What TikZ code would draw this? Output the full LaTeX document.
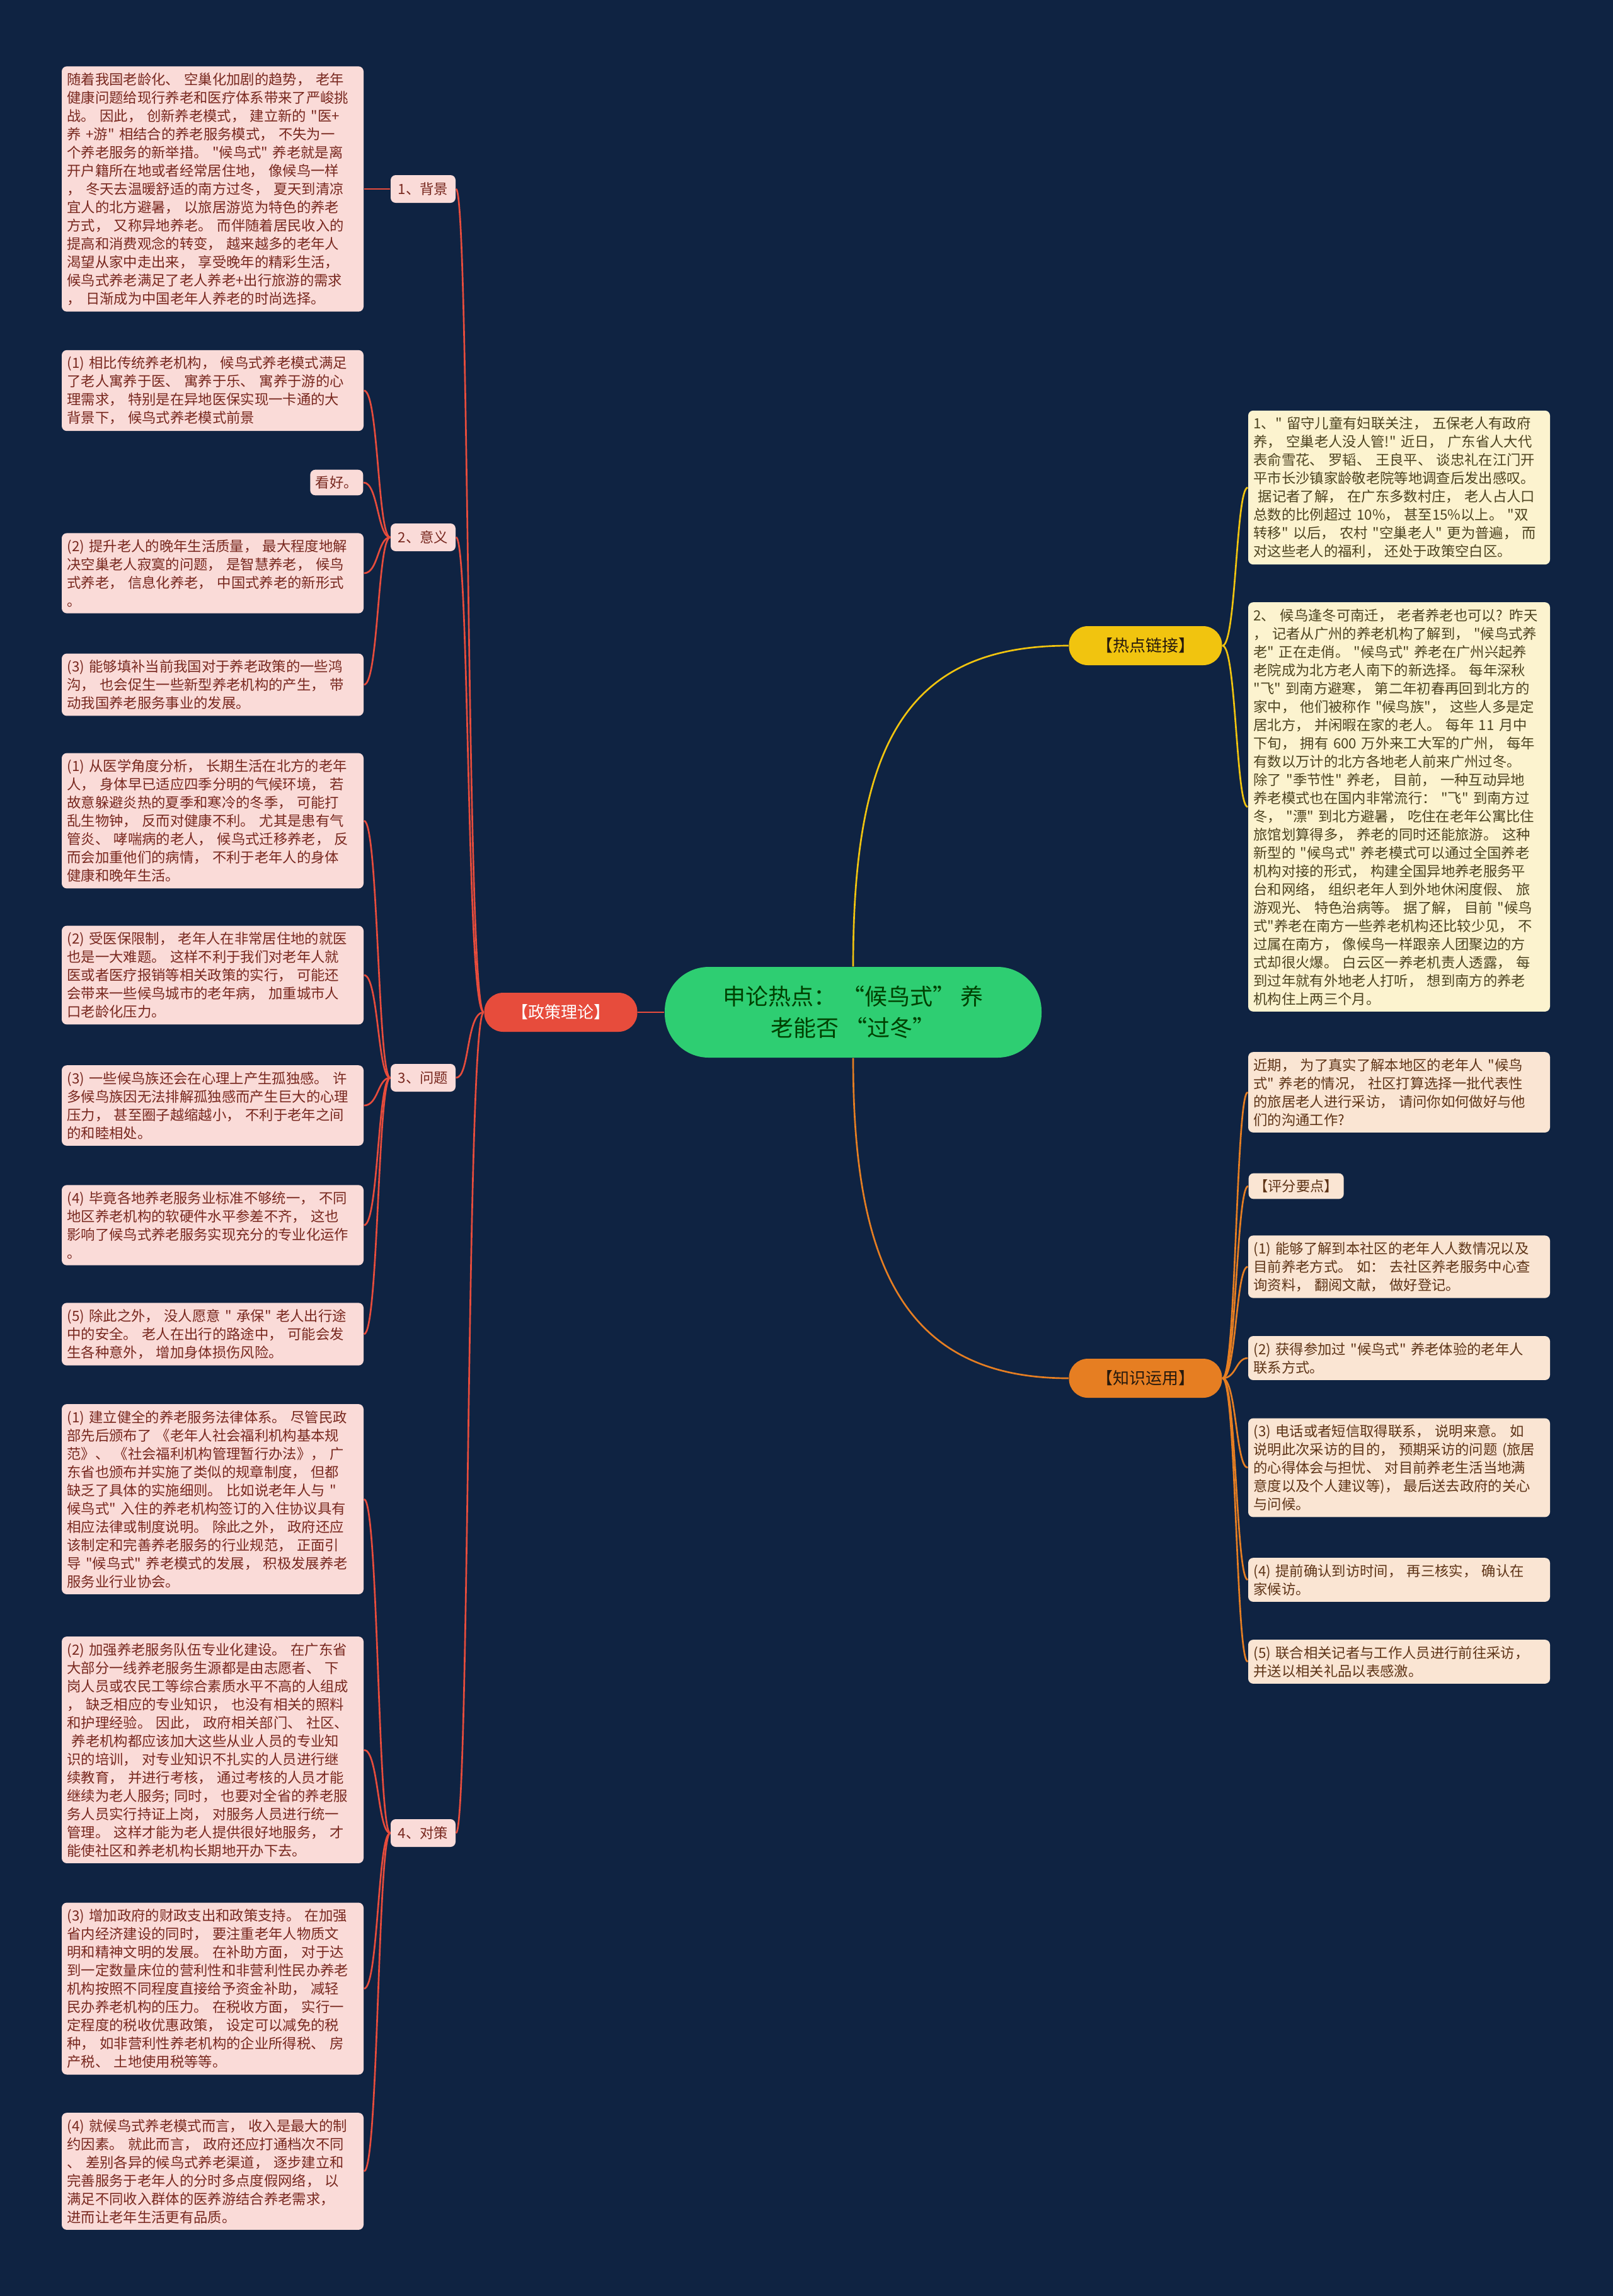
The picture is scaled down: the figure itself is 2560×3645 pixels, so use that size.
\documentclass[tikz,border=0pt]{standalone}
\usepackage{fontspec}
\setmainfont{Noto Sans CJK SC}[Ligatures=TeXOff]
\usetikzlibrary{positioning}
\definecolor{bgnavy}{HTML}{0F2342}
\definecolor{maingreen}{HTML}{2ECE72}
\definecolor{polred}{HTML}{E74C3C}
\definecolor{hotyellow}{HTML}{F1C40F}
\definecolor{knoworange}{HTML}{E67E22}
\definecolor{pinkbox}{HTML}{FADBD8}
\definecolor{creambox}{HTML}{FCF3CF}
\definecolor{peachbox}{HTML}{FAE5D3}
\definecolor{pinktext}{HTML}{78281F}
\definecolor{creamtext}{HTML}{4D4320}
\definecolor{peachtext}{HTML}{5E3417}

\begin{document}
\begin{tikzpicture}[x=0.3pt, y=-0.3pt,
    pill/.style={rounded corners=9pt, minimum width=72.9pt, minimum height=18.6pt,
                 inner sep=0pt, font=\fontsize{7.8pt}{9pt}\selectfont},
    note/.style={rounded corners=2.4pt, inner xsep=2.55pt, inner ysep=3pt, align=left,
                 font=\fontsize{6.7pt}{8.7pt}\selectfont},
    notebox/.style={note, text width=138.6pt},
    polnote/.style={fill=pinkbox, text=pinktext},
    hotnote/.style={fill=creambox, text=creamtext},
    knownote/.style={fill=peachbox, text=peachtext},
    topic/.style={note, polnote, minimum width=30.9pt, minimum height=13.2pt, align=center},
    redline/.style={draw=polred, line width=0.8pt},
    yellowline/.style={draw=hotyellow, line width=0.8pt},
    orangeline/.style={draw=knoworange, line width=0.8pt}
  ]
    \useasboundingbox (0,0) rectangle (2560,3645);
    \fill[bgnavy] (0,0) rectangle (2560,3645);

    % centre and first level
    \node[fill=maingreen, text=black!75!green, rounded corners=21pt, align=center,
          minimum width=179.4pt, minimum height=43.2pt,
          font=\fontsize{10.8pt}{15pt}\selectfont] (main) at (1354,1607)
      {申论热点： “候鸟式” 养\\老能否 “过冬”};
    \node[pill, fill=polred, text=white] (pol) at (890,1607) {【政策理论】};
    \node[pill, fill=hotyellow, text=black!80!brown] (hot) at (1818,1025) {【热点链接】};
    \node[pill, fill=knoworange, text=black!80!brown] (know) at (1818,2188) {【知识运用】};

    % left branch
    \node[topic] (bg) at (671.5,300) {1、背景};
    \node[topic] (yy) at (671.5,853) {2、意义};
    \node[topic] (wt) at (671.5,1711) {3、问题};
    \node[topic] (dc) at (671.5,2910) {4、对策};

    \node[notebox, polnote] (bg1) at (337.5,300) {随着我国老龄化、 空巢化加剧的趋势， 老年\\健康问题给现行养老和医疗体系带来了严峻挑\\战。 因此， 创新养老模式， 建立新的 "医+\\养 +游" 相结合的养老服务模式， 不失为一\\个养老服务的新举措。 "候鸟式" 养老就是离\\开户籍所在地或者经常居住地， 像候鸟一样\\， 冬天去温暖舒适的南方过冬， 夏天到清凉\\宜人的北方避暑， 以旅居游览为特色的养老\\方式， 又称异地养老。 而伴随着居民收入的\\提高和消费观念的转变， 越来越多的老年人\\渴望从家中走出来， 享受晚年的精彩生活，\\候鸟式养老满足了老人养老+出行旅游的需求\\， 日渐成为中国老年人养老的时尚选择。};

    \node[notebox, polnote] (yy1) at (337.5,620) {(1) 相比传统养老机构， 候鸟式养老模式满足\\了老人寓养于医、 寓养于乐、 寓养于游的心\\理需求， 特别是在异地医保实现一卡通的大\\背景下， 候鸟式养老模式前景};
    \node[note, polnote, anchor=east] (yy2) at (577,766) {看好。};
    \node[notebox, polnote] (yy3) at (337.5,910) {(2) 提升老人的晚年生活质量， 最大程度地解\\决空巢老人寂寞的问题， 是智慧养老， 候鸟\\式养老， 信息化养老， 中国式养老的新形式\\。};
    \node[notebox, polnote] (yy4) at (337.5,1087) {(3) 能够填补当前我国对于养老政策的一些鸿\\沟， 也会促生一些新型养老机构的产生， 带\\动我国养老服务事业的发展。};

    \node[notebox, polnote] (wt1) at (337.5,1303) {(1) 从医学角度分析， 长期生活在北方的老年\\人， 身体早已适应四季分明的气候环境， 若\\故意躲避炎热的夏季和寒冷的冬季， 可能打\\乱生物钟， 反而对健康不利。 尤其是患有气\\管炎、 哮喘病的老人， 候鸟式迁移养老， 反\\而会加重他们的病情， 不利于老年人的身体\\健康和晚年生活。};
    \node[notebox, polnote] (wt2) at (337.5,1548) {(2) 受医保限制， 老年人在非常居住地的就医\\也是一大难题。 这样不利于我们对老年人就\\医或者医疗报销等相关政策的实行， 可能还\\会带来一些候鸟城市的老年病， 加重城市人\\口老龄化压力。};
    \node[notebox, polnote] (wt3) at (337.5,1755) {(3) 一些候鸟族还会在心理上产生孤独感。 许\\多候鸟族因无法排解孤独感而产生巨大的心理\\压力， 甚至圈子越缩越小， 不利于老年之间\\的和睦相处。};
    \node[notebox, polnote] (wt4) at (337.5,1945) {(4) 毕竟各地养老服务业标准不够统一， 不同\\地区养老机构的软硬件水平参差不齐， 这也\\影响了候鸟式养老服务实现充分的专业化运作\\。};
    \node[notebox, polnote] (wt5) at (337.5,2118) {(5) 除此之外， 没人愿意 " 承保" 老人出行途\\中的安全。 老人在出行的路途中， 可能会发\\生各种意外， 增加身体损伤风险。};

    \node[notebox, polnote] (dc1) at (337.5,2380) {(1) 建立健全的养老服务法律体系。 尽管民政\\部先后颁布了 《老年人社会福利机构基本规\\范》、 《社会福利机构管理暂行办法》， 广\\东省也颁布并实施了类似的规章制度， 但都\\缺乏了具体的实施细则。 比如说老年人与 "\\候鸟式" 入住的养老机构签订的入住协议具有\\相应法律或制度说明。 除此之外， 政府还应\\该制定和完善养老服务的行业规范， 正面引\\导 "候鸟式" 养老模式的发展， 积极发展养老\\服务业行业协会。};
    \node[notebox, polnote] (dc2) at (337.5,2778) {(2) 加强养老服务队伍专业化建设。 在广东省\\大部分一线养老服务生源都是由志愿者、 下\\岗人员或农民工等综合素质水平不高的人组成\\， 缺乏相应的专业知识， 也没有相关的照料\\和护理经验。 因此， 政府相关部门、 社区、\\\ 养老机构都应该加大这些从业人员的专业知\\识的培训， 对专业知识不扎实的人员进行继\\续教育， 并进行考核， 通过考核的人员才能\\继续为老人服务; 同时， 也要对全省的养老服\\务人员实行持证上岗， 对服务人员进行统一\\管理。 这样才能为老人提供很好地服务， 才\\能使社区和养老机构长期地开办下去。};
    \node[notebox, polnote] (dc3) at (337.5,3157) {(3) 增加政府的财政支出和政策支持。 在加强\\省内经济建设的同时， 要注重老年人物质文\\明和精神文明的发展。 在补助方面， 对于达\\到一定数量床位的营利性和非营利性民办养老\\机构按照不同程度直接给予资金补助， 减轻\\民办养老机构的压力。 在税收方面， 实行一\\定程度的税收优惠政策， 设定可以减免的税\\种， 如非营利性养老机构的企业所得税、 房\\产税、 土地使用税等等。};
    \node[notebox, polnote] (dc4) at (337.5,3447) {(4) 就候鸟式养老模式而言， 收入是最大的制\\约因素。 就此而言， 政府还应打通档次不同\\、 差别各异的候鸟式养老渠道， 逐步建立和\\完善服务于老年人的分时多点度假网络， 以\\满足不同收入群体的医养游结合养老需求，\\进而让老年生活更有品质。};

    % right branch
    \node[notebox, hotnote] (hot1) at (2220.5,774) {1、" 留守儿童有妇联关注， 五保老人有政府\\养， 空巢老人没人管!" 近日， 广东省人大代\\表俞雪花、 罗韬、 王良平、 谈忠礼在江门开\\平市长沙镇家龄敬老院等地调查后发出感叹。\\\ 据记者了解， 在广东多数村庄， 老人占人口\\总数的比例超过 10\%， 甚至15\%以上。 "双\\转移" 以后， 农村 "空巢老人" 更为普遍， 而\\对这些老人的福利， 还处于政策空白区。};
    \node[notebox, hotnote] (hot2) at (2220.5,1281) {2、 候鸟逢冬可南迁， 老者养老也可以? 昨天\\， 记者从广州的养老机构了解到， "候鸟式养\\老" 正在走俏。 "候鸟式" 养老在广州兴起养\\老院成为北方老人南下的新选择。 每年深秋\\"飞" 到南方避寒， 第二年初春再回到北方的\\家中， 他们被称作 "候鸟族"， 这些人多是定\\居北方， 并闲暇在家的老人。 每年 11 月中\\下旬， 拥有 600 万外来工大军的广州， 每年\\有数以万计的北方各地老人前来广州过冬。\\除了 "季节性" 养老， 目前， 一种互动异地\\养老模式也在国内非常流行： "飞" 到南方过\\冬， "漂" 到北方避暑， 吃住在老年公寓比住\\旅馆划算得多， 养老的同时还能旅游。 这种\\新型的 "候鸟式" 养老模式可以通过全国养老\\机构对接的形式， 构建全国异地养老服务平\\台和网络， 组织老年人到外地休闲度假、 旅\\游观光、 特色治病等。 据了解， 目前 "候鸟\\式"养老在南方一些养老机构还比较少见， 不\\过属在南方， 像候鸟一样跟亲人团聚边的方\\式却很火爆。 白云区一养老机责人透露， 每\\到过年就有外地老人打听， 想到南方的养老\\机构住上两三个月。};

    \node[notebox, knownote] (kn1) at (2220.5,1734) {近期， 为了真实了解本地区的老年人 "候鸟\\式" 养老的情况， 社区打算选择一批代表性\\的旅居老人进行采访， 请问你如何做好与他\\们的沟通工作?};
    \node[note, knownote, anchor=west] (kn2) at (1981,1883) {【评分要点】};
    \node[notebox, knownote] (kn3) at (2220.5,2011) {(1) 能够了解到本社区的老年人人数情况以及\\目前养老方式。 如： 去社区养老服务中心查\\询资料， 翻阅文献， 做好登记。};
    \node[notebox, knownote] (kn4) at (2220.5,2156) {(2) 获得参加过 "候鸟式" 养老体验的老年人\\联系方式。};
    \node[notebox, knownote] (kn5) at (2220.5,2330) {(3) 电话或者短信取得联系， 说明来意。 如\\说明此次采访的目的， 预期采访的问题 (旅居\\的心得体会与担忧、 对目前养老生活当地满\\意度以及个人建议等)， 最后送去政府的关心\\与问候。};
    \node[notebox, knownote] (kn6) at (2220.5,2508) {(4) 提前确认到访时间， 再三核实， 确认在\\家候访。};
    \node[notebox, knownote] (kn7) at (2220.5,2638) {(5) 联合相关记者与工作人员进行前往采访，\\并送以相关礼品以表感激。};

    % connectors
    \draw[redline] (main.west) -- (pol.east);
    \draw[yellowline] (main.north) .. controls +(0,-350) and +(-260,0) .. (hot.west);
    \draw[orangeline] (main.south) .. controls +(0,330) and +(-260,0) .. (know.west);
    \foreach \kid in {bg,yy,wt,dc}
      \draw[redline] (pol.west) .. controls +(-28,0) and +(22,0) .. (\kid.east);
    \draw[redline] (bg.west) .. controls +(-20,0) and +(23,0) .. (bg1.east);
    \foreach \kid in {yy1,yy2,yy3,yy4}
      \draw[redline] (yy.west) .. controls +(-20,0) and +(23,0) .. (\kid.east);
    \foreach \kid in {wt1,wt2,wt3,wt4,wt5}
      \draw[redline] (wt.west) .. controls +(-20,0) and +(23,0) .. (\kid.east);
    \foreach \kid in {dc1,dc2,dc3,dc4}
      \draw[redline] (dc.west) .. controls +(-20,0) and +(23,0) .. (\kid.east);
    \foreach \kid in {hot1,hot2}
      \draw[yellowline] (hot.east) .. controls +(22,0) and +(-19,0) .. (\kid.west);
    \foreach \kid in {kn1,kn2,kn3,kn4,kn5,kn6,kn7}
      \draw[orangeline] (know.east) .. controls +(22,0) and +(-19,0) .. (\kid.west);
  \end{tikzpicture}
\end{document}
